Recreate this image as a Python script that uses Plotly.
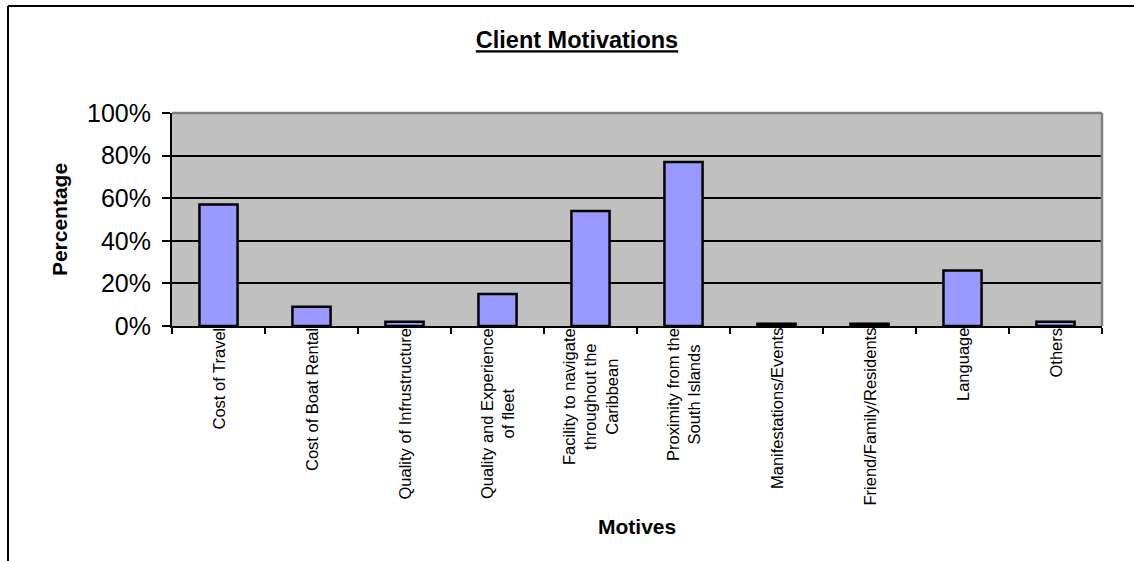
import plotly.graph_objects as go

categories = ["Cost of Travel", "Cost of Boat Rental", "Quality of Infrustructure",
              "Quality and Experience of fleet", "Facility to navigate throughout the Caribbean",
              "Proximity from the South Islands", "Manifestations/Events",
              "Friend/Family/Residents", "Language", "Others"]
tick_labels = ["Cost of Travel", "Cost of Boat Rental", "Quality of Infrustructure",
               "Quality and Experience<br>of fleet", "Facility to navigate<br>throughout the<br>Caribbean",
               "Proximity from the<br>South Islands", "Manifestations/Events",
               "Friend/Family/Residents", "Language", "Others"]
percentages = [0.57, 0.09, 0.02, 0.15, 0.54, 0.77, 0.01, 0.01, 0.26, 0.02]
y_ticks = [0, 0.2, 0.4, 0.6, 0.8, 1.0]

FONT = "Arial, Liberation Sans, sans-serif"

fig = go.Figure()
fig.add_trace(go.Bar(
    x=categories, y=percentages,
    marker=dict(color="#9999FF", line=dict(color="black", width=2.5)),
    hoverinfo="x+y",
))

for cat, lab in zip(categories, tick_labels):
    fig.add_annotation(
        x=cat, xref="x", y=0, yref="paper",
        text=lab, textangle=-90, showarrow=False,
        xanchor="center", yanchor="top", align="center",
        yshift=0,
        font=dict(family=FONT, size=16.5, color="black"),
    )

# axis title "Motives"
fig.add_annotation(
    x=0.5, xref="paper", y=-(526 - 326) / 213, yref="paper",
    text="<b>Motives</b>", showarrow=False, yanchor="middle",
    font=dict(family=FONT, size=21, color="black"),
)

fig.update_layout(
    width=1134, height=561,
    margin=dict(l=172, r=32, t=113, b=235),
    paper_bgcolor="white", plot_bgcolor="#C0C0C0",
    showlegend=False,
    bargap=0.59,
    title=dict(text="<b><u>Client Motivations</u></b>", x=577 / 1134, xanchor="center",
               y=1 - 40 / 561, yanchor="middle",
               font=dict(family=FONT, size=23.5, color="black")),
    font=dict(family=FONT, color="black"),
    xaxis=dict(
        showticklabels=False, ticks="outside", tickson="boundaries", ticklen=6,
        tickwidth=1.5, tickcolor="black",
        showline=True, linecolor="black", linewidth=2,
        showgrid=False, fixedrange=True,
    ),
    yaxis=dict(
        range=[0, 1], tickvals=y_ticks, tickformat=".0%",
        ticks="outside", ticklen=8, tickwidth=1.5, tickcolor="black",
        ticklabelstandoff=6,
        tickfont=dict(family=FONT, size=25, color="black"),
        showline=True, linecolor="black", linewidth=2,
        showgrid=True, gridcolor="black", gridwidth=1.5,
        zeroline=False, fixedrange=True,
        title=dict(text="<b>Percentage</b>", font=dict(family=FONT, size=21, color="black"),
                   standoff=14),
    ),
    shapes=[
        # plot area top and right edges (gray)
        dict(type="line", xref="paper", yref="paper", x0=0, x1=1, y0=1, y1=1,
             line=dict(color="#808080", width=2.5)),
        dict(type="line", xref="paper", yref="paper", x0=1, x1=1, y0=0, y1=1,
             line=dict(color="#808080", width=2.5)),
        # outer chart border (top and left visible)
        dict(type="line", xref="paper", yref="paper",
             x0=(8 - 172) / 930, x1=(1134 - 172) / 930 + 0.01,
             y0=1 + (113 - 6) / 213, y1=1 + (113 - 6) / 213,
             line=dict(color="black", width=2)),
        dict(type="line", xref="paper", yref="paper",
             x0=(8 - 172) / 930, x1=(8 - 172) / 930,
             y0=1 + (113 - 6) / 213, y1=-(561 - 326) / 213 - 0.01,
             line=dict(color="black", width=2)),
    ],
)

fig.write_html("out.html", config={"displayModeBar": False},
               post_script="document.body.style.margin='0';")
